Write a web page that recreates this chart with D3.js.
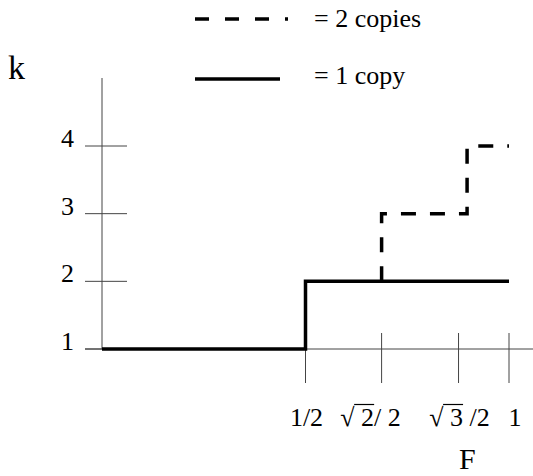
<!DOCTYPE html>
<html>
<head>
<meta charset="utf-8">
<script src="https://cdn.jsdelivr.net/npm/d3@7"></script>
<style>
  body { margin: 0; background: #fff; }
  svg { display: block; }
  text { font-family: "Liberation Serif", "Times New Roman", serif; fill: #000; }
  .axis line { stroke: #444; stroke-width: 1; }
</style>
</head>
<body>
<div id="chart"></div>
<script>
// values (x positions in F units, k levels)
var kTicks = [1, 2, 3, 4];
var fTicks = [0.5, 0.687, 0.876, 1];
var fTickLabels = ["1/2", "\u221A 2/ 2", "\u221A 3  /2", "1"];
var oneCopy = [[0, 1], [0.5, 1], [0.5, 2], [1, 2]];
var twoCopies = [[0.687, 2], [0.687, 3], [0.897, 3], [0.897, 4], [1, 4]];
var legendItems = ["= 2 copies", "= 1 copy"];

var width = 533, height = 476;

var svg = d3.select('#chart').append('svg')
    .attr('width', width)
    .attr('height', height);

var x = d3.scaleLinear().domain([0, 1]).range([102, 509]);
var y = d3.scaleLinear().domain([1, 4]).range([349, 146]);

// axes (cross ticks, drawn by hand)
var axis = svg.append('g').attr('class', 'axis');
axis.append('line')
    .attr('x1', x(0)).attr('x2', x(0))
    .attr('y1', 78).attr('y2', y(1));
axis.append('line')
    .attr('x1', 85).attr('x2', width)
    .attr('y1', y(1)).attr('y2', y(1));

axis.selectAll('line.ktick')
    .data(kTicks)
    .enter().append('line')
    .attr('class', 'ktick')
    .attr('x1', 85).attr('x2', 127)
    .attr('y1', d => y(d)).attr('y2', d => y(d));

axis.selectAll('line.ftick')
    .data(fTicks)
    .enter().append('line')
    .attr('class', 'ftick')
    .attr('x1', d => x(d)).attr('x2', d => x(d))
    .attr('y1', y(1) - 16).attr('y2', y(1) + 34);

svg.selectAll('text.klabel')
    .data(kTicks)
    .enter().append('text')
    .attr('class', 'klabel')
    .attr('x', 74)
    .attr('y', d => y(d) + 1)
    .attr('text-anchor', 'end')
    .style('font-size', '26px')
    .text(d => d);

// F tick labels, nudged like the original
var labelShift = [1, -11, 1, 6];
var fLabels = svg.selectAll('text.flabel')
    .data(fTicks)
    .enter().append('text')
    .attr('class', 'flabel')
    .attr('x', (d, i) => x(d) + labelShift[i])
    .attr('y', 426)
    .attr('text-anchor', 'middle')
    .style('font-size', '26px')
    .text((d, i) => fTickLabels[i]);

// overbar for the radicals
fLabels.each(function (d, i) {
    var label = fTickLabels[i];
    if (label.charAt(0) !== '\u221A') return;
    var box = this.getExtentOfChar(0);
    var endRad = this.getEndPositionOfChar(2);
    svg.append('line')
        .attr('x1', box.x + box.width - 0.5)
        .attr('x2', endRad.x)
        .attr('y1', box.y + 1.5)
        .attr('y2', box.y + 1.5)
        .attr('stroke', '#000')
        .attr('stroke-width', 1.2);
});

svg.append('text')
    .attr('x', 8).attr('y', 79)
    .style('font-size', '34px')
    .text('k');

svg.append('text')
    .attr('x', 459).attr('y', 469)
    .style('font-size', '30px')
    .text('F');

// steps
var line = d3.line()
    .x(d => x(d[0]))
    .y(d => y(d[1]));

svg.append('path')
    .datum(twoCopies)
    .attr('d', line)
    .attr('fill', 'none')
    .attr('stroke', '#000')
    .attr('stroke-width', 3.5)
    .attr('stroke-dasharray', '15,14');

svg.append('path')
    .datum(oneCopy)
    .attr('d', line)
    .attr('fill', 'none')
    .attr('stroke', '#000')
    .attr('stroke-width', 3.5);

// legend
var legend = svg.append('g').attr('class', 'legend');
legend.append('line')
    .attr('x1', 195).attr('x2', 288)
    .attr('y1', 19).attr('y2', 19)
    .attr('stroke', '#000')
    .attr('stroke-width', 3.5)
    .attr('stroke-dasharray', '14,16');
legend.append('line')
    .attr('x1', 195).attr('x2', 280)
    .attr('y1', 79).attr('y2', 79)
    .attr('stroke', '#000')
    .attr('stroke-width', 3.5);
legend.selectAll('text')
    .data(legendItems)
    .enter().append('text')
    .attr('x', 314)
    .attr('y', (d, i) => i === 0 ? 27 : 84)
    .style('font-size', '26px')
    .text(d => d);
</script>
</body>
</html>
